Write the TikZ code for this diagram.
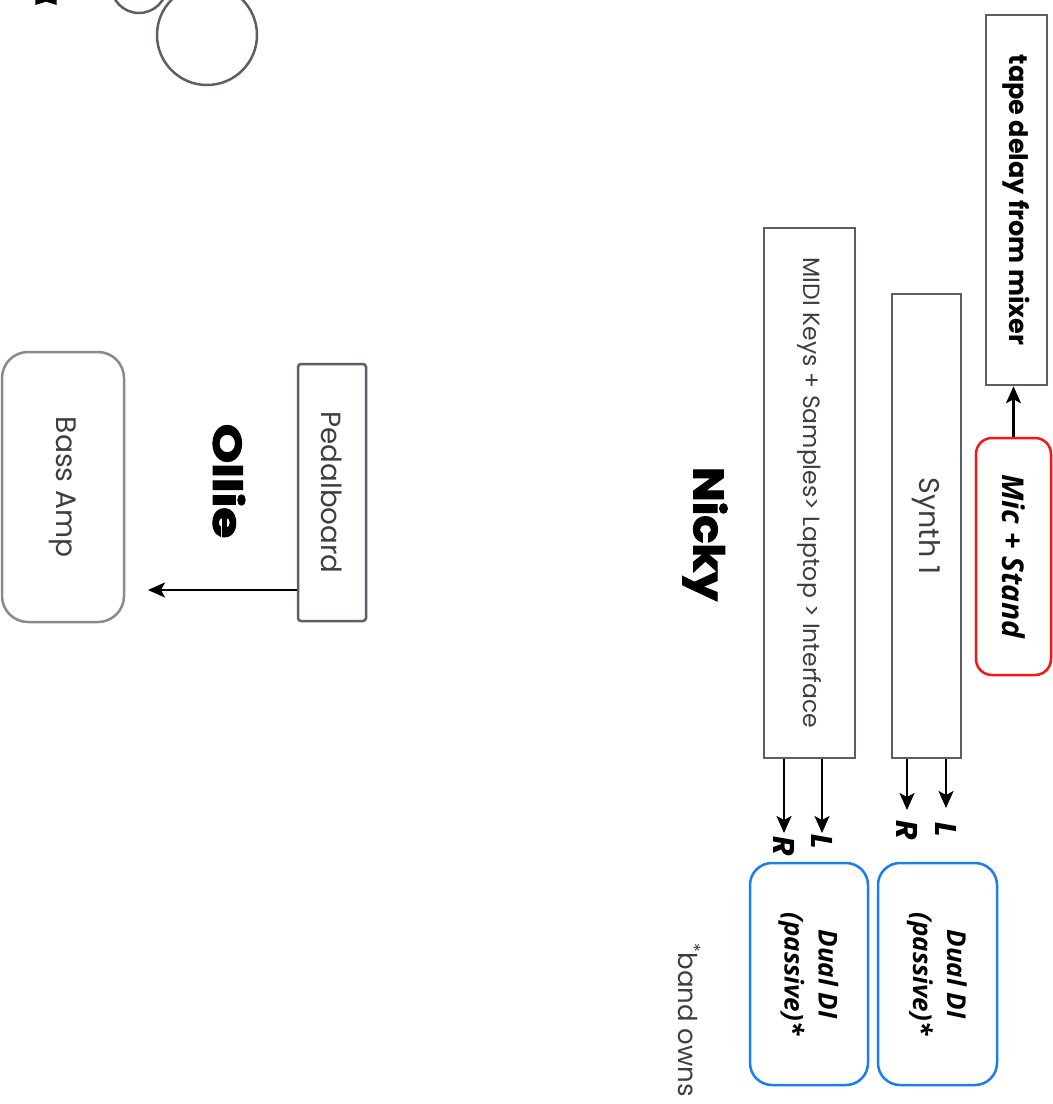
\documentclass[tikz,border=0pt]{standalone}
\usepackage{fontspec}
\usepackage{graphicx}
\usetikzlibrary{arrows.meta,calc}
\setmainfont{Poppins}
\newfontfamily\osfont{Open Sans}
\newfontfamily\heavyfont{Poppins}[BoldFeatures={FakeBold=2.5}]
\definecolor{boxgray}{RGB}{92,96,102}
\definecolor{ampgray}{RGB}{138,138,142}
\definecolor{diblue}{RGB}{26,125,240}
\definecolor{txtgray}{RGB}{60,62,66}
\definecolor{micred}{RGB}{250,20,20}
\tikzset{
  graybox/.style={draw=boxgray, line width=2.5pt, inner sep=0pt, fill=white},
  ampbox/.style={draw=ampgray, line width=2.5pt, inner sep=0pt, rounded corners=26pt},
  dibox/.style={draw=diblue, line width=2.5pt, inner sep=0pt, rounded corners=22pt},
  micbox/.style={draw=micred, line width=2.5pt, inner sep=0pt, rounded corners=16pt},
  arr/.style={-{Stealth[length=17pt,width=15pt,inset=4pt]}, line width=2.2pt},
  chan/.style={inner sep=0pt, font=\heavyfont\fontsize{30}{34}\selectfont\bfseries\itshape},
  person/.style={inner sep=0pt},
  ring/.style={draw=boxgray, line width=2.5pt}
}
\begin{document}
\begin{tikzpicture}[x=1pt,y=-1pt]
\useasboundingbox (0,0) rectangle (1053,1104);
\clip (0,0) rectangle (1053,1104);
% partial shapes at top
\fill[black, shift={(46,-9.6)}] (270:18) -- (306:11.25) -- (342:18) -- (18:11.25) -- (54:18) -- (90:11.25) -- (126:18) -- (162:11.25) -- (198:18) -- (234:11.25) -- cycle;
\node[ring, circle, minimum size=56pt, inner sep=0pt] (c1) at (139,-15) {};
\node[ring, circle, minimum size=100pt, inner sep=0pt] (c2) at (207,35) {};
% boxes
\node[graybox, minimum width=61pt, minimum height=370pt] (tape) at (1016.5,200)
  {\rotatebox{-90}{\fontsize{25.5}{30}\selectfont\bfseries tape delay from mixer}};
\node[micbox, minimum width=75pt, minimum height=237pt] (mic) at (1013.5,556.5)
  {\rotatebox{-90}{\osfont\fontsize{30}{34}\selectfont\bfseries\itshape Mic + Stand}};
\node[graybox, minimum width=69pt, minimum height=464pt] (synth) at (926.5,526)
  {\rotatebox{-90}{\fontsize{28.5}{32}\selectfont\color{txtgray}Synth 1}};
\node[graybox, minimum width=91pt, minimum height=530pt] (midi) at (809.5,493)
  {\rotatebox{-90}{\fontsize{23.5}{28}\selectfont\color{txtgray}MIDI Keys + Samples> Laptop > Interface}};
\node[dibox, minimum width=118pt, minimum height=222pt] (di1) at (809,974)
  {\rotatebox{-90}{\osfont\fontsize{26}{37}\selectfont\bfseries\itshape\begin{tabular}{@{}c@{}}Dual DI\\[-3pt](passive)*\end{tabular}}};
\node[dibox, minimum width=119pt, minimum height=222pt] (di2) at (937.5,974)
  {\rotatebox{-90}{\osfont\fontsize{26}{37}\selectfont\bfseries\itshape\begin{tabular}{@{}c@{}}Dual DI\\[-3pt](passive)*\end{tabular}}};
\node[graybox, rounded corners=3pt, minimum width=68pt, minimum height=257pt] (pedal) at (332,492.5)
  {\rotatebox{-90}{\fontsize{27.7}{32}\selectfont\color{txtgray}Pedalboard}};
\node[ampbox, minimum width=122pt, minimum height=270pt] (amp) at (63,487)
  {\rotatebox{-90}{\fontsize{28.2}{32}\selectfont\color{txtgray}Bass Amp}};
% people
\node[person] (nicky) at (705,534) {\rotatebox{-90}{\scalebox{1.1}[1]{\heavyfont\fontsize{42}{46}\selectfont\bfseries Nicky}}};
\node[person] (ollie) at (229,481) {\rotatebox{-90}{\scalebox{1.25}[1]{\heavyfont\fontsize{40}{44}\selectfont\bfseries Ollie}}};
\node[inner sep=0pt] (owns) at (690,1020) {\rotatebox{-90}{\fontsize{26}{30}\selectfont\color{txtgray}\textsuperscript{*}band owns}};
% channel labels
\node[chan] (sR) at (907,830) {\rotatebox{-90}{R}};
\node[chan] (sL) at (946,830) {\rotatebox{-90}{L}};
\node[chan] (mR) at (784,846) {\rotatebox{-90}{R}};
\node[chan] (mL) at (822,842) {\rotatebox{-90}{L}};
\coordinate (sRe) at (907,810);
\coordinate (sLe) at (946,808);
\coordinate (mRe) at (784,833);
\coordinate (mLe) at (822,833);
\coordinate (ampe) at (148,590);
% connectors
\draw[arr] (mic.north) -- (mic.north |- tape.south);
\draw[arr] (synth.south -| sRe) -- (sRe);
\draw[arr] (synth.south -| sLe) -- (sLe);
\draw[arr] (midi.south -| mRe) -- (mRe);
\draw[arr] (midi.south -| mLe) -- (mLe);
\draw[arr] (pedal.west |- ampe) -- (ampe);
\end{tikzpicture}
\end{document}
